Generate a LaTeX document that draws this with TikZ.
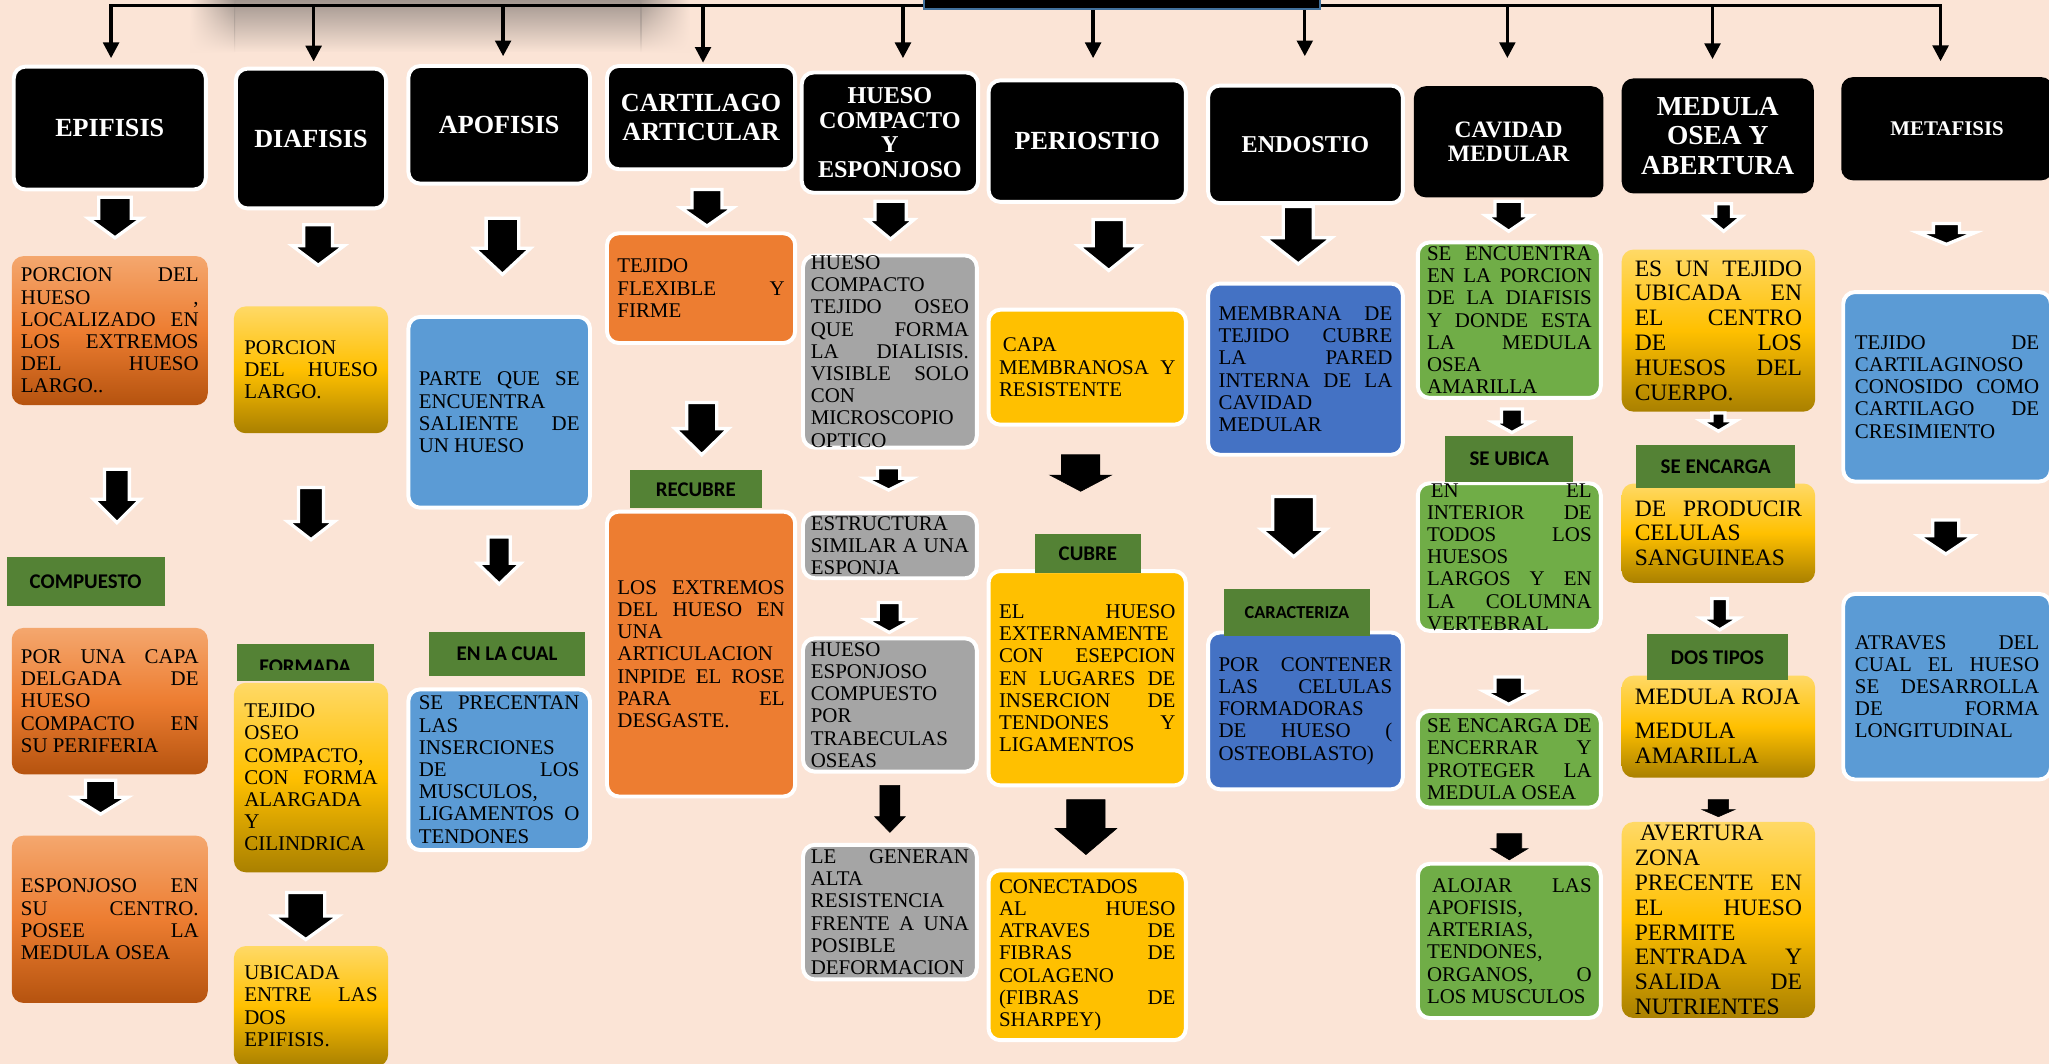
\documentclass[tikz,border=0pt]{standalone}
\usepackage{fontspec}
\setmainfont{Liberation Serif}
\newfontfamily\calibri{Carlito}
\usetikzlibrary{arrows.meta,fadings}

\definecolor{fondo}{HTML}{FBE4D6}
\definecolor{sombra}{HTML}{A2968F}
\definecolor{etiqueta}{HTML}{548235}
\definecolor{naranja}{HTML}{ED7D31}
\definecolor{naranjaA}{HTML}{F4A76E}
\definecolor{naranjaB}{HTML}{B5530F}
\definecolor{amarillo}{HTML}{FFC000}
\definecolor{amarilloA}{HTML}{FFD966}
\definecolor{amarilloB}{HTML}{A98000}
\definecolor{azulc}{HTML}{5B9BD5}
\definecolor{azulo}{HTML}{4472C4}
\definecolor{gris}{HTML}{A5A5A5}
\definecolor{verde}{HTML}{70AD47}
\definecolor{marco}{HTML}{41719C}

\hyphenpenalty=10000
\exhyphenpenalty=10000
\tolerance=10000
\hbadness=10000

\tikzfading[name=sombrafade, top color=transparent!0, middle color=transparent!60,
  bottom color=transparent!100]

% flecha gruesa: x, arriba, punta, medio tallo, media cabeza, largo cabeza
\newcommand{\blkarrow}[7][blkarr]{%
  \filldraw[#1] (#2-#5,#3) -- (#2+#5,#3) -- (#2+#5,#4-#7) -- (#2+#6,#4-#7)
    -- (#2,#4) -- (#2-#6,#4-#7) -- (#2-#5,#4-#7) -- cycle;}

\tikzset{
  hdr/.style={fill=black, rounded corners=9pt, text=white, align=center,
    inner sep=2pt, font=\bfseries\fontsize{20}{22}\selectfont},
  wb/.style={draw=white, line width=3pt},
  cbox/.style={rounded corners=9pt, inner xsep=8pt, inner ysep=1pt,
    align=justify, text=black, font=\fontsize{16}{17}\selectfont},
  grande/.style={font=\fontsize{18}{19}\selectfont},
  ngrad/.style={cbox, top color=naranjaA, bottom color=naranjaB, middle color=naranja},
  agrad/.style={cbox, top color=amarilloA, bottom color=amarilloB, middle color=amarillo},
  nplano/.style={cbox, wb, fill=naranja},
  aplano/.style={cbox, wb, fill=amarillo},
  azulcbox/.style={cbox, wb, fill=azulc},
  azulobox/.style={cbox, wb, fill=azulo},
  grisbox/.style={cbox, wb, fill=gris},
  verdebox/.style={cbox, wb, fill=verde},
  etq/.style={fill=etiqueta, inner sep=0pt, text=black,
    font=\calibri\bfseries\fontsize{16}{18}\selectfont},
  barra/.style={line width=2.5pt},
  flecha/.style={barra, -{Triangle[width=12pt,length=12pt]}},
  blkarr/.style={fill=black, draw=white, line width=2.5pt},
  blkplain/.style={fill=black}
}

\begin{document}
\begin{tikzpicture}[x=1pt,y=-1pt]

  \useasboundingbox (0,0) rectangle (1568,814);
  \clip (0,0) rectangle (1568,814);
  \fill[fondo] (0,0) rectangle (1568,814);
  % sombra
  \fill[sombra, path fading=sombrafade] (179,0) rectangle (491,40);
  \shade[left color=fondo, right color=sombra, path fading=sombrafade] (145,0) rectangle (180,40);
  \shade[left color=sombra, right color=fondo, path fading=sombrafade] (490,0) rectangle (528,40);

  % titulos
  \node[hdr, wb, minimum width=147pt, minimum height=94pt] (epi) at (84,98) {EPIFISIS};
  \node[hdr, wb, minimum width=115pt, minimum height=107pt] (dia) at (238,106) {DIAFISIS};
  \node[hdr, wb, minimum width=139pt, minimum height=90pt] (apo) at (382,95.5) {APOFISIS};
  \node[hdr, wb, minimum width=144pt, minimum height=79pt] (car) at (536.5,90) {CARTILAGO\\ARTICULAR};
  \node[hdr, wb, minimum width=135pt, minimum height=92pt,
    font=\bfseries\fontsize{18.5}{18.7}\selectfont] (hcy) at (681,101.5) {HUESO\\COMPACTO\\Y\\ESPONJOSO};
  \node[hdr, wb, minimum width=151pt, minimum height=93pt] (per) at (832,108) {PERIOSTIO};
  \node[hdr, wb, minimum width=149pt, minimum height=90pt,
    font=\bfseries\fontsize{18.5}{20}\selectfont] (endo) at (999,110.5) {ENDOSTIO};
  \node[hdr, minimum width=145pt, minimum height=85pt,
    font=\bfseries\fontsize{18}{19}\selectfont] (cav) at (1154.5,108.5) {CAVIDAD\\MEDULAR};
  \node[hdr, minimum width=147pt, minimum height=88pt,
    font=\bfseries\fontsize{21}{22.5}\selectfont] (med) at (1314.5,104) {MEDULA\\OSEA Y\\ABERTURA};
  \node[hdr, minimum width=162pt, minimum height=79pt,
    font=\bfseries\fontsize{16}{18}\selectfont] (meta) at (1490,98.5) {METAFISIS};

  % barra superior
  \coordinate (t1) at (85,4);
  \coordinate (t2) at (240,4);
  \coordinate (t3) at (385,4);
  \coordinate (t4) at (538,4);
  \coordinate (t5) at (691,4);
  \coordinate (t6) at (836.5,4);
  \coordinate (t7) at (998.5,4);
  \coordinate (t8) at (1153.5,4);
  \coordinate (t9) at (1310.5,4);
  \coordinate (t10) at (1485,4);
  \draw[barra, {Triangle[width=12pt,length=12pt]}-{Triangle[width=12pt,length=12pt]},
    shorten <=5pt, shorten >=12pt] (t1 |- epi.north) -- (t1) -- (t10) -- (t10 |- meta.north);
  \foreach \pa/\nodo/\corte in {t2/dia/4, t3/apo/6, t4/car/1, t5/hcy/9.5,
      t6/per/15.5, t7/endo/21, t8/cav/21.4, t9/med/14.6}
    \draw[flecha, shorten >=\corte pt] (\pa) -- (\pa |- \nodo.north);
  \node[fill=black, draw=marco, line width=2pt, minimum width=303pt,
    minimum height=54pt] (titulo) at (858.5,-20) {};

  % EPIFISIS
  \node[ngrad, inner xsep=7pt, text width=136pt, minimum height=114pt] (epi1) at (84,253)
    {PORCION DEL\linebreak HUESO ,\linebreak LOCALIZADO EN\linebreak LOS EXTREMOS\linebreak DEL HUESO\linebreak LARGO..};
  \node[etq, minimum width=121pt, minimum height=38pt] (lcomp) at (65.5,445) {COMPUESTO};
  \node[ngrad, inner xsep=7pt, text width=136pt, minimum height=112pt] (epi2) at (84,536.5)
    {POR UNA CAPA\linebreak DELGADA DE\linebreak HUESO\linebreak COMPACTO EN\linebreak SU PERIFERIA};
  \node[ngrad, inner xsep=7pt, text width=136pt, minimum height=128pt] (epi3) at (84,703.5)
    {ESPONJOSO EN\linebreak SU CENTRO.\linebreak POSEE LA\linebreak MEDULA OSEA};

  % DIAFISIS
  \node[agrad, text width=102pt, minimum height=97pt] (dia1) at (238,283)
    {PORCION\linebreak DEL HUESO\linebreak LARGO.};
  \node[etq, minimum width=105pt, minimum height=28pt] (lform) at (233.5,507) {};
  \begin{scope}
    \clip (181,493) rectangle (286,512.5);
    \node[etq, fill=none] (lformt) at (233.5,510) {FORMADA};
  \end{scope}
  \node[agrad, text width=102pt, minimum height=145pt] (dia2) at (238,595)
    {TEJIDO\linebreak OSEO\linebreak COMPACTO,\linebreak CON FORMA\linebreak ALARGADA\linebreak Y\linebreak CILINDRICA};
  \node[agrad, text width=102pt, minimum height=92pt] (dia3) at (238,770)
    {UBICADA\linebreak ENTRE LAS\linebreak DOS\linebreak EPIFISIS.};

  % APOFISIS
  \node[azulcbox, text width=123pt, minimum height=146pt] (apo1) at (382,315.5)
    {PARTE QUE SE\linebreak ENCUENTRA\linebreak SALIENTE DE\linebreak UN HUESO};
  \node[etq, minimum width=120pt, minimum height=33pt] (lcual) at (388,500.5) {EN LA CUAL};
  \node[azulcbox, text width=123pt, minimum height=123pt] (apo2) at (382,589)
    {SE PRECENTAN\linebreak LAS\linebreak INSERCIONES\linebreak DE LOS\linebreak MUSCULOS,\linebreak LIGAMENTOS O\linebreak TENDONES};

  % CARTILAGO ARTICULAR
  \node[nplano, text width=128pt, minimum height=84pt] (car1) at (536.5,220.5)
    {TEJIDO\linebreak FLEXIBLE Y\linebreak FIRME};
  \node[etq, minimum width=101pt, minimum height=29pt] (lrecu) at (532.5,374.5) {RECUBRE};
  \node[nplano, text width=128pt, minimum height=218pt] (car2) at (536.5,500.5)
    {LOS EXTREMOS\linebreak DEL HUESO EN\linebreak UNA\linebreak ARTICULACION\linebreak INPIDE EL ROSE\linebreak PARA EL\linebreak DESGASTE.};

  % HUESO COMPACTO Y ESPONJOSO
  \node[grisbox, inner xsep=6pt, inner ysep=0pt, text width=121pt, minimum height=147pt] (hcy1) at (681,269)
    {HUESO\linebreak COMPACTO\linebreak TEJIDO OSEO\linebreak QUE FORMA\linebreak LA DIALISIS.\linebreak VISIBLE SOLO\linebreak CON\linebreak MICROSCOPIO\linebreak OPTICO};
  \node[grisbox, inner xsep=6pt, text width=121pt, minimum height=50pt] (hcy2) at (681,417.5)
    {ESTRUCTURA\linebreak SIMILAR A UNA\linebreak ESPONJA};
  \node[grisbox, inner xsep=6pt, text width=121pt, minimum height=102pt] (hcy3) at (681,539.5)
    {HUESO\linebreak ESPONJOSO\linebreak COMPUESTO\linebreak POR\linebreak TRABECULAS\linebreak OSEAS};
  \node[grisbox, inner xsep=6pt, text width=121pt, minimum height=103pt] (hcy4) at (681,698)
    {LE GENERAN\linebreak ALTA\linebreak RESISTENCIA\linebreak FRENTE A UNA\linebreak POSIBLE\linebreak DEFORMACION};

  % PERIOSTIO
  \node[aplano, text width=135pt, minimum height=88pt] (per1) at (832,281)
    {\hspace*{3pt}CAPA\linebreak MEMBRANOSA Y\linebreak RESISTENTE};
  \node[aplano, text width=135pt, minimum height=164pt] (per2) at (832,519)
    {EL HUESO\linebreak EXTERNAMENTE\linebreak CON ESEPCION\linebreak EN LUGARES DE\linebreak INSERCION DE\linebreak TENDONES Y\linebreak LIGAMENTOS};
  \node[etq, minimum width=81pt, minimum height=30pt] (lcubre) at (832.5,423.6) {CUBRE};
  \node[aplano, text width=135pt, minimum height=130pt] (per3) at (832,731)
    {CONECTADOS\linebreak AL HUESO\linebreak ATRAVES DE\linebreak FIBRAS DE\linebreak COLAGENO\linebreak (FIBRAS DE\linebreak SHARPEY)};

  % ENDOSTIO
  \node[azulobox, text width=133pt, minimum height=131pt] (endo1) at (999,282.5)
    {MEMBRANA DE\linebreak TEJIDO CUBRE\linebreak LA PARED\linebreak INTERNA DE LA\linebreak CAVIDAD\linebreak MEDULAR};
  \node[azulobox, text width=133pt, minimum height=120pt] (endo2) at (999,544)
    {POR CONTENER\linebreak LAS CELULAS\linebreak FORMADORAS\linebreak DE HUESO (\linebreak OSTEOBLASTO)};
  \node[etq, minimum width=111pt, minimum height=36pt,
    font=\calibri\bfseries\fontsize{14}{16}\selectfont] (lcarac) at (992.5,469) {CARACTERIZA};

  % CAVIDAD MEDULAR
  \node[verdebox, inner xsep=7pt, text width=126pt, minimum height=119pt] (cav1) at (1155,245)
    {SE ENCUENTRA\linebreak EN LA PORCION\linebreak DE LA DIAFISIS\linebreak Y DONDE ESTA\linebreak LA MEDULA\linebreak OSEA\linebreak AMARILLA};
  \node[verdebox, inner xsep=7pt, inner ysep=0pt, text width=126pt, minimum height=113pt] (cav2) at (1155,426.3)
    {\hspace*{3pt}EN EL\linebreak INTERIOR DE\linebreak TODOS LOS\linebreak HUESOS\linebreak LARGOS Y EN\linebreak LA COLUMNA\linebreak VERTEBRAL};
  \node[etq, minimum width=98pt, minimum height=34.6pt] (lubica) at (1155,351.3) {SE UBICA};
  \node[verdebox, inner xsep=7pt, text width=126pt, minimum height=74pt] (cav3) at (1155,581)
    {SE ENCARGA DE\linebreak ENCERRAR Y\linebreak PROTEGER LA\linebreak MEDULA OSEA};
  \node[verdebox, inner xsep=7pt, text width=126pt, minimum height=118pt] (cav4) at (1155,720)
    {\hspace*{4pt}ALOJAR LAS\linebreak APOFISIS,\linebreak ARTERIAS,\linebreak TENDONES,\linebreak ORGANOS, O\linebreak LOS MUSCULOS};

  % MEDULA OSEA Y ABERTURA
  \node[agrad, grande, inner xsep=10pt, text width=128pt, minimum height=124pt] (med1) at (1315,253)
    {ES UN TEJIDO\linebreak UBICADA EN\linebreak EL CENTRO\linebreak DE LOS\linebreak HUESOS DEL\linebreak CUERPO.};
  \node[agrad, grande, inner xsep=10pt, text width=128pt, minimum height=76pt] (med2) at (1315,408)
    {DE PRODUCIR\linebreak CELULAS\linebreak SANGUINEAS};
  \node[etq, minimum width=121.5pt, minimum height=33pt] (lencar) at (1313,357) {SE ENCARGA};
  \node[agrad, grande, inner xsep=10pt, text width=128pt, minimum height=78pt] (med3) at (1315,556)
    {MEDULA ROJA\par\vspace{7pt}\noindent MEDULA\linebreak AMARILLA};
  \node[etq, minimum width=107.4pt, minimum height=35pt] (ldos) at (1314.3,503) {DOS TIPOS};
  \node[agrad, grande, inner xsep=10pt, inner ysep=0pt, text width=128pt, minimum height=150pt] (med4) at (1315,704)
    {\hspace*{4pt}AVERTURA\linebreak ZONA\linebreak PRECENTE EN\linebreak EL HUESO\linebreak PERMITE\linebreak ENTRADA Y\linebreak SALIDA DE\linebreak NUTRIENTES};

  % METAFISIS
  \node[azulcbox, inner xsep=9pt, text width=141pt, minimum height=145pt] (meta1) at (1490,296)
    {TEJIDO DE\linebreak CARTILAGINOSO\linebreak CONOSIDO COMO\linebreak CARTILAGO DE\linebreak CRESIMIENTO};
  \node[azulcbox, inner xsep=9pt, text width=141pt, minimum height=142pt] (meta2) at (1490,525.5)
    {ATRAVES DEL\linebreak CUAL EL HUESO\linebreak SE DESARROLLA\linebreak DE FORMA\linebreak LONGITUDINAL};

  % flechas gruesas
  \blkarrow{88}{151}{182}{12.5}{20.5}{15}
  \blkarrow{89.5}{359}{400}{9.5}{18}{18}
  \blkarrow{77}{597}{623}{11.5}{21}{13}
  \blkarrow{243.5}{172}{203}{11}{20}{15}
  \blkarrow{238}{373}{413}{9.5}{18}{14}
  \blkarrow{234}{683}{719}{14.5}{25}{18}
  \blkarrow{384.5}{167}{210}{12.5}{21.5}{20}
  \blkarrow{382}{411}{447}{8.5}{16.5}{16}
  \blkarrow{541}{145}{173}{11.5}{20}{14}
  \blkarrow{537}{308}{348}{11.5}{20.5}{20}
  \blkarrow{681.5}{154}{183}{12}{18}{15}
  \blkarrow{680}{358}{375}{8.5}{18}{9}
  \blkarrow{680.5}{461}{484}{8.5}{18}{10}
  \blkarrow[blkplain]{681}{601}{637}{7.6}{11.7}{12}
  \blkarrow{848.5}{168}{207}{12}{23.5}{19}
  \blkarrow[blkplain]{827}{348}{376}{14.7}{23.7}{12.5}
  \blkarrow[blkplain]{831}{612}{654}{14.7}{23.6}{20}
  \blkarrow{993.5}{158}{202}{11.5}{25.5}{20}
  \blkarrow{990}{380}{426}{16}{25}{21}
  \blkarrow{1154.5}{154}{177}{10.5}{17.5}{12}
  \blkarrow{1157}{313}{331}{8}{14.5}{8}
  \blkarrow{1154.5}{518}{539}{10.5}{19}{10}
  \blkarrow[blkplain]{1155}{638}{658}{9.5}{14.3}{8.6}
  \blkarrow{1319}{156}{177}{6}{14}{11.5}
  \blkarrow{1315}{316}{330}{5}{13.5}{8}
  \blkarrow{1316}{458}{482}{6}{14.5}{9}
  \blkarrow[blkplain]{1315}{612}{625}{7.9}{12.7}{5.5}
  \blkarrow{1489.5}{171}{187}{10}{22}{9}
  \blkarrow{1489}{398}{424}{10}{21}{14}

\end{tikzpicture}
\end{document}
